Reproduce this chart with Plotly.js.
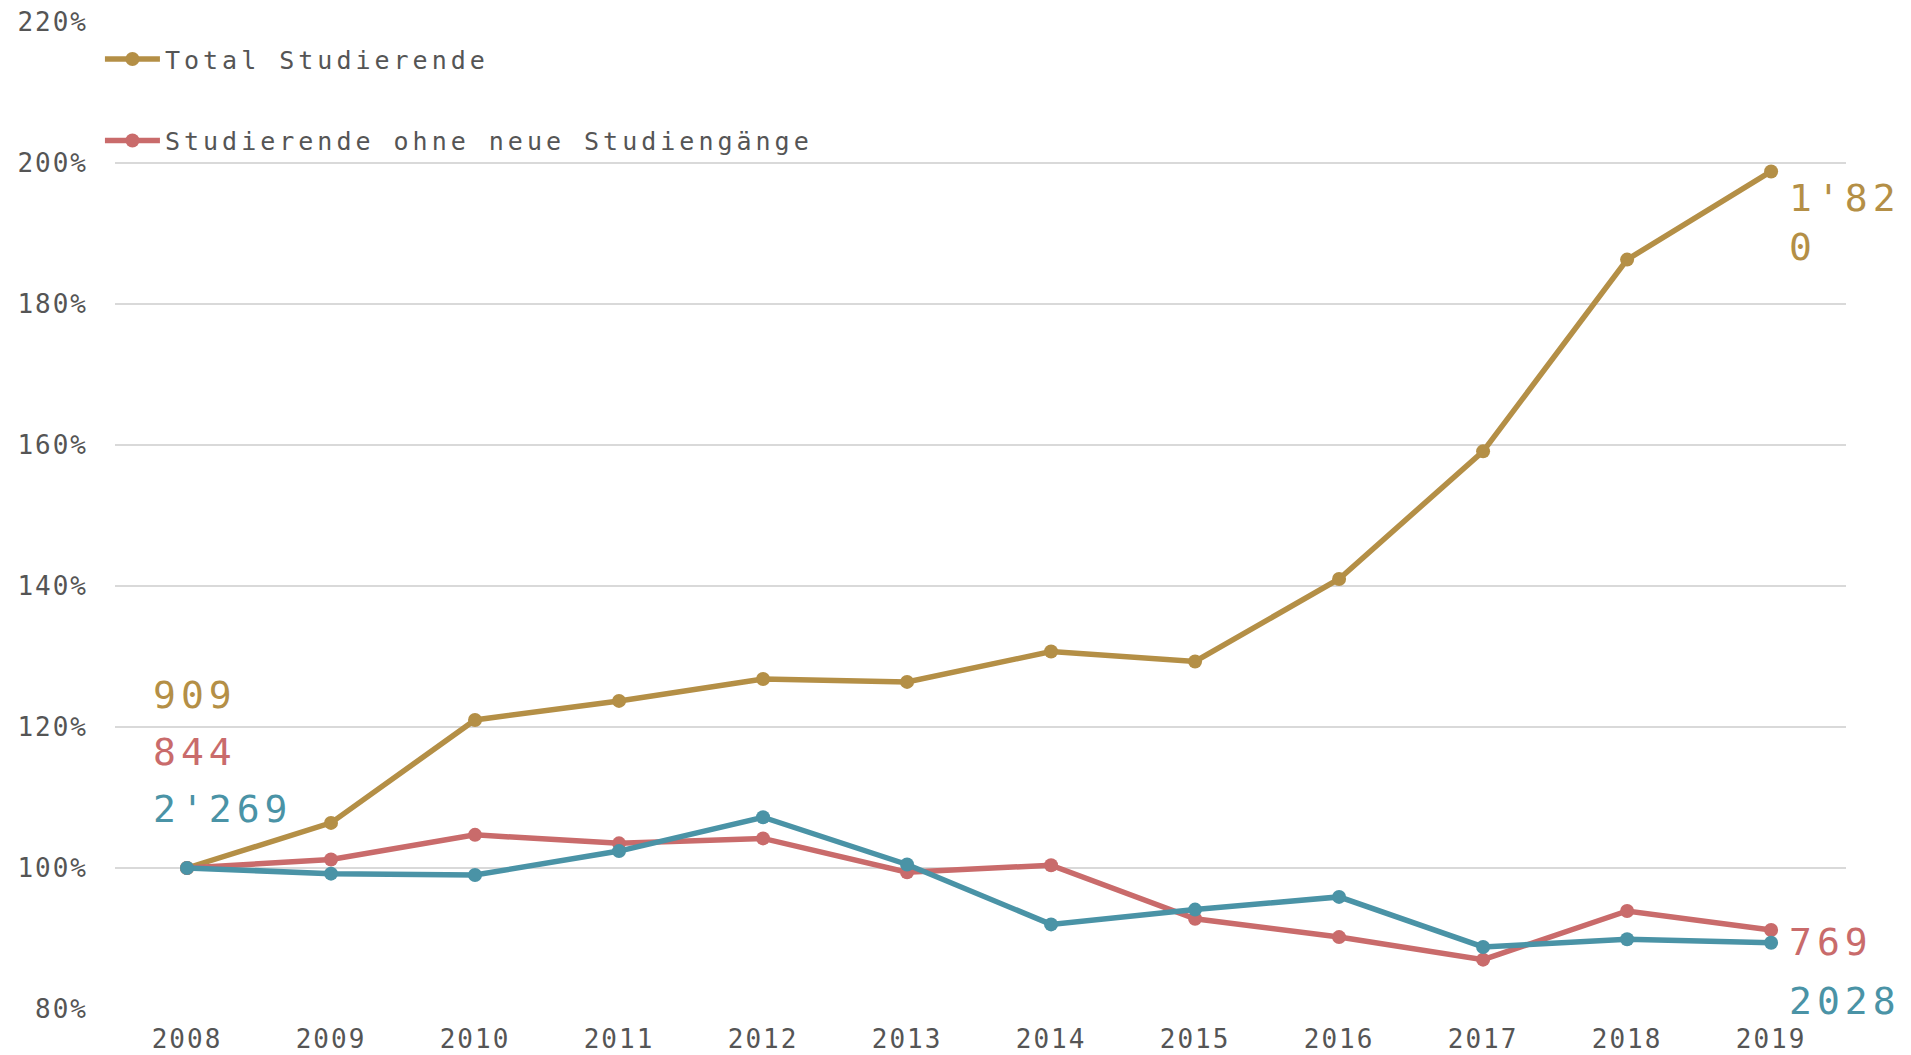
<!DOCTYPE html>
<html>
<head>
<meta charset="utf-8">
<script src="https://cdn.plot.ly/plotly-3.0.1.min.js"></script>
<style>
  html, body { margin: 0; padding: 0; background: #fff; }
  #chart { width: 1911px; height: 1055px; }
  .xtick text, .ytick text { letter-spacing: 2px; }
  .annotation-text { letter-spacing: 5px; }
  .legendtext { letter-spacing: 4px; }
</style>
</head>
<body>
<div id="chart"></div>
<script>
// Years (x categories)
const years = [2008, 2009, 2010, 2011, 2012, 2013, 2014, 2015, 2016, 2017, 2018, 2019];

// Index values in percent (2008 = 100%)
const totalStudierende = [100, 106.4, 121.0, 123.7, 126.8, 126.4, 130.7, 129.3, 141.0, 159.1, 186.3, 198.8];
const ohneNeueStudiengaenge = [100, 101.2, 104.7, 103.5, 104.2, 99.4, 100.4, 92.8, 90.2, 87.0, 93.9, 91.2];
const dritteReihe = [100, 99.2, 99.0, 102.4, 107.2, 100.5, 92.0, 94.1, 95.9, 88.8, 89.9, 89.4];

// Series names
const seriesNames = ["Total Studierende", "Studierende ohne neue Studiengänge", ""];

// Start / end absolute counts shown as labels
const startLabels = ["909", "844", "2'269"];
const endLabels = ["1'82<br>0", "769", "2028"];

// Y axis ticks
const yTickVals = [80, 100, 120, 140, 160, 180, 200, 220];
const yTickText = ["80%", "100%", "120%", "140%", "160%", "180%", "200%", "220%"];

const colors = ["#b48f46", "#c96b6b", "#4a93a6"];
const seriesData = [totalStudierende, ohneNeueStudiengaenge, dritteReihe];

const traces = seriesData.map((vals, i) => ({
  type: "scatter",
  mode: "lines+markers",
  x: years,
  y: vals,
  name: seriesNames[i],
  legendgroup: "g" + i,
  showlegend: i < 2,
  line: { color: colors[i], width: 5.5 },
  marker: { color: colors[i], size: 14 },
  hoverinfo: "x+y"
}));

// Label positions (y-values of label centres)
const startY = [124.6, 116.5, 108.3];
const endY = [191.6, 89.5, 81.1];

const annotations = [];
for (let i = 0; i < 3; i++) {
  annotations.push({
    xref: "x", yref: "y",
    x: years[0], y: startY[i],
    xshift: -36, xanchor: "left", yanchor: "middle",
    text: startLabels[i], showarrow: false,
    font: { family: "DejaVu Sans Mono", size: 38, color: colors[i] }
  });
  annotations.push({
    xref: "x", yref: "y",
    x: years[years.length - 1], y: endY[i],
    xshift: 16, xanchor: "left", yanchor: "middle", align: "left",
    text: endLabels[i], showarrow: false,
    font: { family: "DejaVu Sans Mono", size: 38, color: colors[i] }
  });
}

const layout = {
  width: 1911,
  height: 1055,
  margin: { l: 115, r: 65, t: 22, b: 46 },
  paper_bgcolor: "#ffffff",
  plot_bgcolor: "#ffffff",
  showlegend: true,
  legend: {
    x: -0.0087, y: 0.9855, xanchor: "left", yanchor: "top",
    orientation: "v",
    tracegroupgap: 46,
    itemwidth: 55,
    bgcolor: "rgba(0,0,0,0)",
    font: { family: "DejaVu Sans Mono", size: 25, color: "#555555" }
  },
  xaxis: {
    type: "linear",
    range: [2007.5, 2019.52],
    tickmode: "array",
    tickvals: years,
    ticktext: years.map(String),
    showgrid: false,
    zeroline: false,
    showline: false,
    ticks: "",
    ticklabelstandoff: 12,
    tickfont: { family: "DejaVu Sans Mono", size: 26, color: "#555555" }
  },
  yaxis: {
    range: [80, 220],
    tickmode: "array",
    tickvals: yTickVals,
    ticktext: yTickText,
    showgrid: true,
    gridcolor: "#d9d9d9",
    gridwidth: 2,
    zeroline: false,
    showline: false,
    ticks: "",
    ticklabelstandoff: 26,
    tickfont: { family: "DejaVu Sans Mono", size: 26, color: "#555555" }
  },
  annotations: annotations
};

Plotly.newPlot("chart", traces, layout, { displayModeBar: false, staticPlot: true });
</script>
</body>
</html>
